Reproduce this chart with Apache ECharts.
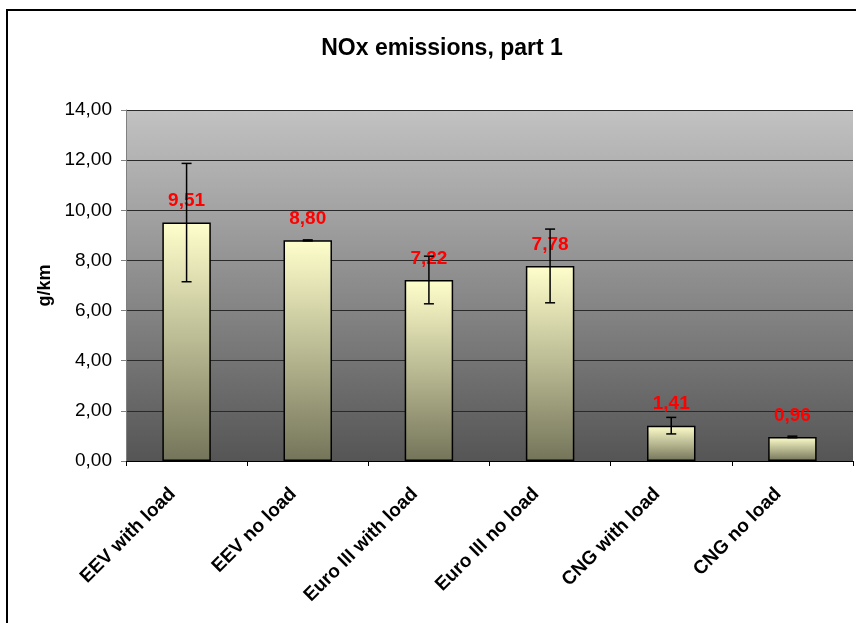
<!DOCTYPE html>
<html>
<head>
<meta charset="utf-8">
<script src="https://cdn.jsdelivr.net/npm/echarts@6/dist/echarts.min.js"></script>
<style>
  html, body { margin: 0; padding: 0; background: #fff; }
  #chart { width: 856px; height: 623px; }
</style>
</head>
<body>
<div id="chart"></div>
<script>
const categories = ["EEV with load", "EEV no load", "Euro III with load", "Euro III no load", "CNG with load", "CNG no load"];
const values = [9.51, 8.80, 7.22, 7.78, 1.41, 0.96];
const errors = [2.36, 0.02, 0.95, 1.47, 0.33, 0.03];
const yTicks = { min: 0, max: 14, interval: 2 };

const comma = (v) => v.toFixed(2).replace(".", ",");
const font = "Arial, 'Liberation Sans', sans-serif";

const chart = echarts.init(document.getElementById("chart"));

chart.setOption({
  animation: false,
  title: {
    text: "NOx emissions, part 1",
    left: 437,
    textAlign: "center",
    top: 32,
    textStyle: { fontFamily: font, fontSize: 23, fontWeight: "bold", color: "#000" },
  },
  graphic: [
    {
      type: "rect",
      shape: { x: 7, y: 10, width: 900, height: 700 },
      style: { fill: "none", stroke: "#000", lineWidth: 2 },
      silent: true,
    },
  ],
  grid: {
    left: 126,
    right: 3,
    top: 110,
    bottom: 162,
    show: true,
    borderWidth: 0,
    backgroundColor: new echarts.graphic.LinearGradient(0, 0, 0, 1, [
      { offset: 0, color: "#C2C2C2" },
      { offset: 1, color: "#555555" },
    ]),
  },
  xAxis: {
    type: "category",
    data: categories,
    axisLine: { lineStyle: { color: "#000", width: 1 } },
    axisTick: { show: true, length: 5, lineStyle: { color: "#000" } },
    axisLabel: {
      rotate: 45,
      margin: 16,
      padding: [0, 20, 0, 0],
      fontFamily: font,
      fontSize: 19,
      fontWeight: "bold",
      color: "#000",
    },
  },
  yAxis: {
    type: "value",
    min: yTicks.min,
    max: yTicks.max,
    interval: yTicks.interval,
    name: "g/km",
    nameLocation: "middle",
    nameGap: 70,
    nameTextStyle: { fontFamily: font, fontSize: 18, fontWeight: "bold", color: "#000" },
    axisLine: { show: true, lineStyle: { color: "#808080" } },
    axisTick: { show: true, length: 5, lineStyle: { color: "#808080" } },
    axisLabel: {
      margin: 14,
      fontFamily: font,
      fontSize: 19,
      color: "#000",
      formatter: comma,
    },
    splitLine: { lineStyle: { color: "#2a2a2a", width: 1.2 } },
  },
  series: [
    {
      type: "bar",
      data: values,
      barWidth: "40%",
      itemStyle: {
        borderColor: "#000",
        borderWidth: 1.5,
        color: new echarts.graphic.LinearGradient(0, 0, 0, 1, [
          { offset: 0, color: "#FFFFCC" },
          { offset: 1, color: "#74745A" },
        ]),
      },
      label: {
        show: true,
        position: "top",
        distance: 12,
        fontFamily: font,
        fontSize: 19,
        fontWeight: "bold",
        color: "#FF0000",
        formatter: (p) => comma(p.value),
      },
      z: 2,
    },
    {
      type: "custom",
      data: values.map((v, i) => [i, v - errors[i], v + errors[i]]),
      encode: { x: 0, y: [1, 2] },
      z: 3,
      renderItem: (params, api) => {
        const low = api.coord([api.value(0), api.value(1)]);
        const high = api.coord([api.value(0), api.value(2)]);
        const hw = 5;
        const style = { stroke: "#000", lineWidth: 1.5 };
        return {
          type: "group",
          children: [
            { type: "line", shape: { x1: high[0], y1: high[1], x2: low[0], y2: low[1] }, style },
            { type: "line", shape: { x1: high[0] - hw, y1: high[1], x2: high[0] + hw, y2: high[1] }, style },
            { type: "line", shape: { x1: low[0] - hw, y1: low[1], x2: low[0] + hw, y2: low[1] }, style },
          ],
        };
      },
    },
  ],
});
</script>
</body>
</html>
